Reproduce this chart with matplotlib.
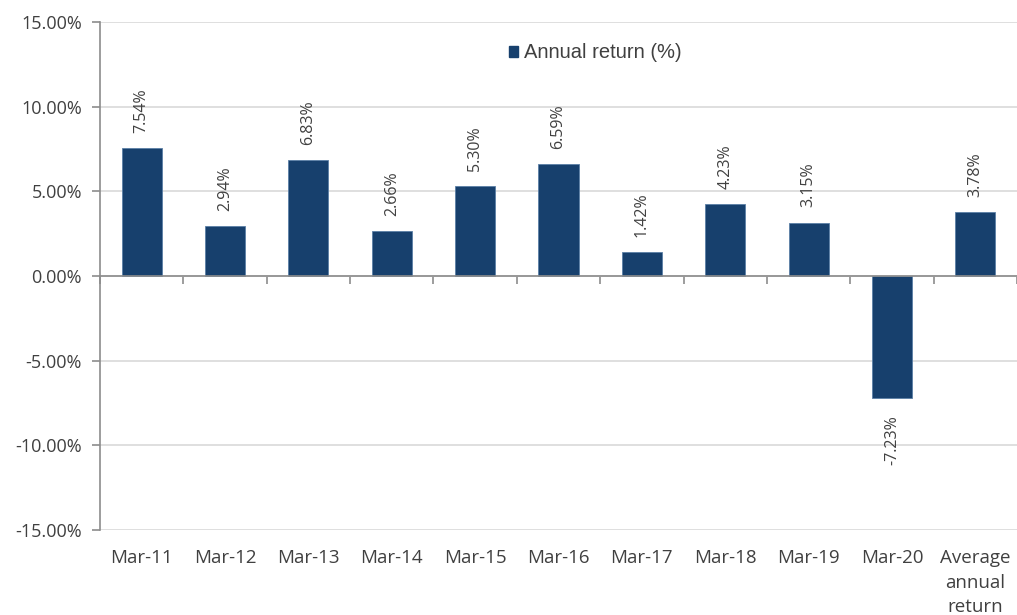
import matplotlib.pyplot as plt
from matplotlib.patches import Patch
from matplotlib.ticker import FuncFormatter, MultipleLocator, FixedLocator
import numpy as np

# Data
categories = ["Mar-11", "Mar-12", "Mar-13", "Mar-14", "Mar-15", "Mar-16",
              "Mar-17", "Mar-18", "Mar-19", "Mar-20", "Average\nannual\nreturn"]
returns = [7.54, 2.94, 6.83, 2.66, 5.30, 6.59, 1.42, 4.23, 3.15, -7.23, 3.78]
labels = ["7.54%", "2.94%", "6.83%", "2.66%", "5.30%", "6.59%",
          "1.42%", "4.23%", "3.15%", "-7.23%", "3.78%"]

BAR_COLOR = "#17406D"
TEXT_COLOR = "#404040"
AXIS_COLOR = "#8C8C8C"
GRID_COLOR = "#D9D9D9"

plt.rcParams["font.family"] = ["Open Sans", "DejaVu Sans"]

fig = plt.figure(figsize=(10.17, 6.15), dpi=100)
ax = fig.add_axes([100 / 1017, 1 - 530 / 615, 917 / 1017, 508 / 615])

x = np.arange(len(categories))
bars = ax.bar(x, returns, width=0.48, color=BAR_COLOR, edgecolor="#5B7FA6",
              linewidth=0.6, zorder=3)

ax.set_xlim(-0.5, len(categories) - 0.5)
ax.set_ylim(-15, 15)

# grid
ax.yaxis.set_major_locator(MultipleLocator(5))
ax.yaxis.set_major_formatter(FuncFormatter(lambda v, p: f"{v:.2f}%"))
ax.grid(axis="y", color=GRID_COLOR, linewidth=1.2, zorder=0)
ax.set_axisbelow(True)

for s in ["top", "right"]:
    ax.spines[s].set_visible(False)
ax.spines["left"].set_color(AXIS_COLOR)
ax.spines["left"].set_linewidth(1.2)
ax.spines["bottom"].set_position(("data", 0))
ax.spines["bottom"].set_color(AXIS_COLOR)
ax.spines["bottom"].set_linewidth(1.2)
ax.spines["bottom"].set_zorder(4)

ax.tick_params(axis="y", direction="out", length=6, width=1.2, color=AXIS_COLOR,
               labelsize=13, labelcolor=TEXT_COLOR, pad=7)

# x axis: boundary ticks on zero line, labels at the bottom
ax.xaxis.set_major_locator(FixedLocator(x))
ax.xaxis.set_minor_locator(FixedLocator(np.arange(len(categories) + 1) - 0.5))
ax.tick_params(axis="x", which="major", length=0, labelbottom=False)
ax.tick_params(axis="x", which="minor", direction="out", length=6, width=1.2,
               color=AXIS_COLOR)

for xi, cat in zip(x, categories):
    ax.text(xi, -0.038, cat, transform=ax.get_xaxis_transform(), ha="center",
            va="top", fontsize=13.5, color=TEXT_COLOR, linespacing=1.45)

# value labels
for xi, v, lab in zip(x, returns, labels):
    if v >= 0:
        ax.annotate(lab, (xi, v), xytext=(0, 11), textcoords="offset points",
                    rotation=90, ha="center", va="bottom", fontsize=11.5,
                    color=TEXT_COLOR)
    else:
        ax.annotate(lab, (xi, v), xytext=(0, -12), textcoords="offset points",
                    rotation=90, ha="center", va="top", fontsize=11.5,
                    color=TEXT_COLOR)

# legend
handle = Patch(facecolor=BAR_COLOR, edgecolor=BAR_COLOR)
fig.legend([handle], ["Annual return (%)"], loc="center left",
           bbox_to_anchor=(491 / 1017, 1 - 53 / 615), frameon=False,
           prop={"family": "Liberation Sans", "size": 14.5},
           handlelength=0.45, handleheight=0.45, handletextpad=0.3,
           labelcolor=TEXT_COLOR)

fig.savefig("out.png", dpi=100)
